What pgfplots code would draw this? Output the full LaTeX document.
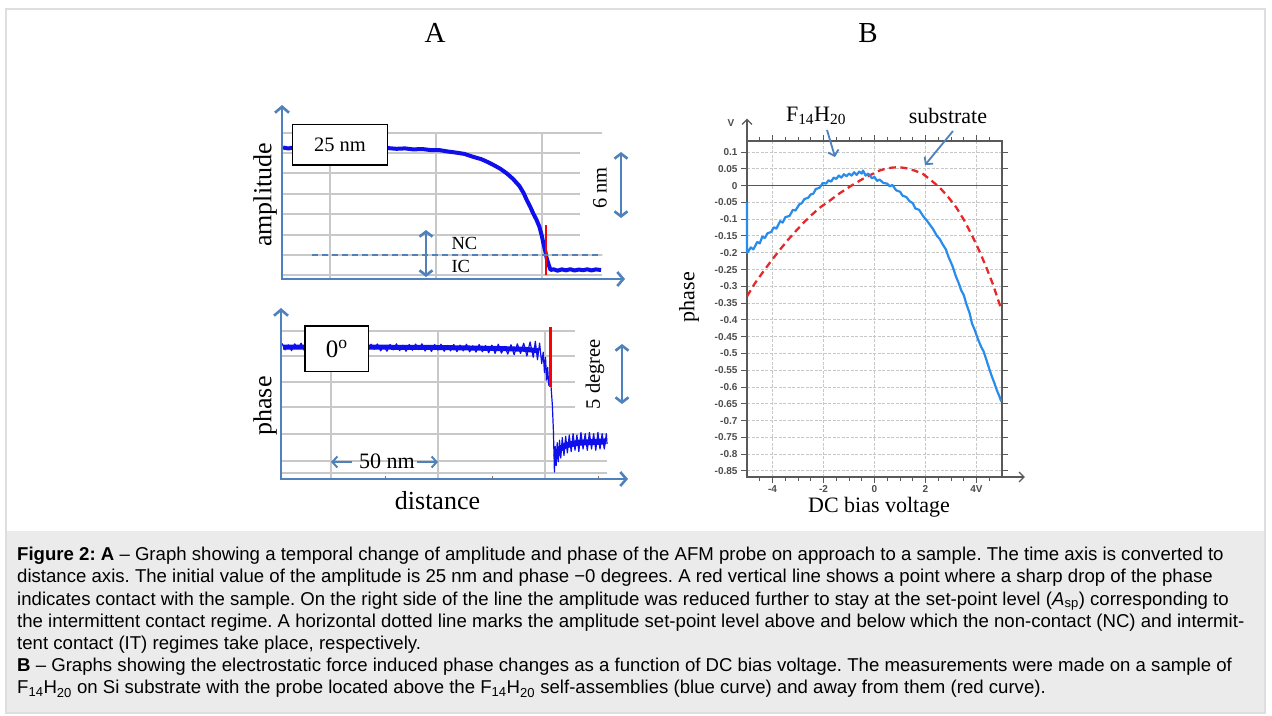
\documentclass[border=0pt]{standalone}
\usepackage{fontspec}
\setmainfont{Liberation Serif}
\setsansfont{Liberation Sans}
\usepackage{pgfplots}
\pgfplotsset{compat=1.18}
\usetikzlibrary{arrows.meta}
\definecolor{sblue}{RGB}{79,129,189}
\definecolor{gridg}{RGB}{200,200,200}
\definecolor{dblue}{RGB}{15,15,235}
\definecolor{lblue}{RGB}{40,140,235}
\definecolor{rred}{RGB}{232,40,40}
\definecolor{capbg}{RGB}{235,235,235}
\newcommand{\fs}[1]{\fontsize{#1}{#1}\selectfont}
\begin{document}
\frenchspacing
\begin{tikzpicture}
\begin{scope}[x=1pt,y=-1pt,gl/.style={draw=gridg,line width=1.5pt}]
\path[use as bounding box] (0,0) rectangle (1272,715);
\fill[white] (0,0) rectangle (1272,715);
\fill[capbg] (7,531) rectangle (1265,713);
\draw[black!13,line width=1.5pt] (6,9) rectangle (1265,713);
% amplitude grid
\foreach \x in {330,436,542} \draw[gl] (\x,133) -- (\x,279);
\draw[gl] (282,133) -- (602,133);
\foreach \y in {153,173,194,214,235} \draw[gl] (282,\y) -- (580,\y);
\draw[gl] (282,255) -- (602,255);
\draw[gl] (282,275) -- (602,275);
% phase grid
\foreach \x in {331,438,545} \draw[gl] (\x,331) -- (\x,479);
\foreach \y in {331,356,382,407} \draw[gl] (282,\y) -- (575,\y);
\foreach \y in {434,461,473} \draw[gl] (282,\y) -- (607,\y);
\end{scope}

% ---------- amplitude data
\begin{axis}[at={(282pt,-279pt)},anchor=south west,scale only axis,width=343pt,height=174pt,
  xmin=0,xmax=161.79,ymin=12.094,ymax=29.236,hide axis,clip=false]
\addplot[dblue,line width=4pt,line join=round] coordinates {
(0.5,25.05)(3,24.95)(6,25.08)(9,24.96)(12,25.06)(15,24.97)(18,25.05)(22,24.98)
(26,25.04)(30,24.95)(34,25.03)(38,24.96)(42,25.02)(46,24.94)(50,24.99)(54,24.92)
(58,24.96)(62,24.86)(66,24.9)(70,24.8)(74,24.8)(78,24.66)(82,24.55)(86,24.42)
(90,24.14)(94,23.9)(97,23.62)(100,23.3)(103,22.95)(106,22.5)(109,21.95)(112,21.25)
(114,20.55)(115.5,19.85)(117,19.25)(118.5,18.55)(120,17.95)(121.4,17.25)(122.5,16.4)
(123.3,15.6)(124.2,14.8)(124.9,14.1)(125.8,13.5)(126.7,12.98)(128,13.05)(130,12.92)
(132,13.04)(134,12.95)(136,13.06)(138,12.93)(140,13.03)(142,12.96)(144,13.05)
(146,12.94)(148,13.04)(150.5,12.98)};
\addplot[red,line width=2.6pt] coordinates {(124.5,17.41)(124.5,12.49)};
\end{axis}

% ---------- phase data
\begin{axis}[at={(282pt,-479pt)},anchor=south west,scale only axis,width=346pt,height=171pt,
  xmin=0,xmax=163.2,ymin=-10.35,ymax=3.06,hide axis,clip=false]
\addplot[dblue,line width=5pt] coordinates {
(0.5,0.0)(40,-0.01)(70,-0.03)(90,-0.08)(105,-0.13)(115,-0.18)(121,-0.3)};
\addplot[dblue,line width=6pt] coordinates {
(129.2,-8.6)(131,-8.0)(134,-7.7)(140,-7.5)(147,-7.45)(152.8,-7.4)};
\addplot[dblue,line width=1.2pt,line join=round] coordinates {
(0,0.28)(1.5,-0.22)(3,0.17)(4.5,-0.28)(6,0.25)(7.5,-0.14)(9,0.3)(10.5,-0.26)(12,0.11)
(13.5,-0.31)(15,0.21)(16.5,-0.2)(18,0.27)(19.5,-0.23)(21,0.16)(22.5,-0.29)(24,0.24)
(25.5,-0.15)(27,0.29)(28.5,-0.26)(30,0.09)(31.5,-0.32)(33,0.2)(34.5,-0.22)(36,0.26)
(37.5,-0.25)(39,0.14)(40.5,-0.3)(42,0.22)(43.5,-0.17)(45,0.24)(46.5,-0.3)(48,0.09)
(49.5,-0.33)(51,0.2)(52.5,-0.22)(54,0.25)(55.5,-0.28)(57,0.14)(58.5,-0.33)(60,0.2)
(61.5,-0.26)(63,0.23)(64.5,-0.2)(66,0.25)(67.5,-0.31)(69,0.12)(70.5,-0.35)(72,0.2)
(73.5,-0.24)(75,0.22)(76.5,-0.33)(78,0.12)(79.5,-0.3)(81,0.2)(82.5,-0.36)(84,0.15)
(85.5,-0.3)(87,0.22)(88.5,-0.38)(90,0.1)(91.5,-0.4)(93,0.2)(94.5,-0.37)(96,0.12)
(97.5,-0.45)(99,0.15)(100.5,-0.5)(102,0.22)(103.5,-0.48)(105,0.05)(106.5,-0.55)
(108,0.18)(109.5,-0.6)(111,0.25)(112.5,-0.5)(114,0.3)(115.5,-0.7)(117,0.4)(118.5,-0.8)
(119.5,0.45)(120.5,-1.0)(121.5,0.3)(122.5,-1.3)(123.2,-0.4)(123.8,-2.0)(124.3,-0.8)
(124.8,-2.6)(125.3,-1.6)(125.8,-3.0)(126.3,-2.6)(126.9,-3.1)(127.5,-4.5)(128.0,-6.5)
(128.5,-9.8)(128.9,-7.8)(129.3,-9.3)(129.8,-7.5)(130.3,-9.0)(130.9,-7.3)(131.5,-8.7)
(132.2,-7.1)(133,-8.5)(133.8,-7.0)(134.6,-8.3)(135.5,-6.9)(136.4,-8.2)(137.3,-6.8)
(138.2,-8.1)(139.1,-6.9)(140,-8.2)(141,-6.7)(142,-8.0)(143,-6.8)(144,-8.1)(145,-6.7)
(146,-8.0)(147,-6.8)(148,-8.1)(149,-6.7)(150,-8.0)(151,-6.8)(152,-8.0)(153,-6.8)(153.3,-7.6)};
\addplot[red,line width=2.8pt] coordinates {(126.7,1.59)(126.7,-3.11)};
\end{axis}

% ---------- panel B
\begin{axis}[at={(747pt,-477pt)},anchor=south west,scale only axis,width=255pt,height=336pt,
  xmin=-5,xmax=5,ymin=-0.868,ymax=0.133,clip=false,
  axis line style={draw=black!65,line width=1.3pt},
  xtick={-4,-2,0,2,4},xticklabels={-4,-2,0,2,4V},
  minor xtick={-4.5,-3.5,-3,-2.5,-1.5,-1,-0.5,0.5,1,1.5,2.5,3,3.5,4.5},
  ytick={-0.85,-0.8,-0.75,-0.7,-0.65,-0.6,-0.55,-0.5,-0.45,-0.4,-0.35,-0.3,-0.25,-0.2,-0.15,-0.1,-0.05,0,0.05,0.1},
  yticklabels={-0.85,-0.8,-0.75,-0.7,-0.65,-0.6,-0.55,-0.5,-0.45,-0.4,-0.35,-0.3,-0.25,-0.2,-0.15,-0.1,-0.05,0,0.05,0.1},
  tick align=outside,tick pos=both,xticklabel pos=lower,yticklabel pos=left,
  major tick length=6pt,minor tick length=4pt,
  tick style={draw=black!65,line width=1pt},
  ticklabel style={font=\sffamily\bfseries\fs{10},text=black!70},
  xticklabel style={yshift=1pt},
  grid=major,major grid style={draw=black!22,dash pattern=on 3pt off 1.5pt,line width=1pt}]
\draw[black!65,line width=1.3pt] (axis cs:-5,0) -- (axis cs:5,0);
\addplot[rred,line width=2.3pt,dash pattern=on 7pt off 4.5pt] coordinates {
(-5.0,-0.33)(-4.7,-0.292)(-4.38,-0.258)(-4.05,-0.224)(-3.73,-0.193)(-3.4,-0.162)
(-3.07,-0.134)(-2.75,-0.108)(-2.42,-0.084)(-2.1,-0.063)(-1.76,-0.045)(-1.45,-0.027)
(-1.11,-0.010)(-0.78,0.006)(-0.46,0.020)(-0.13,0.033)(0.2,0.045)(0.46,0.051)(0.72,0.054)
(0.98,0.055)(1.24,0.052)(1.57,0.045)(1.90,0.035)(2.2,0.017)(2.55,-0.005)(2.88,-0.033)
(3.2,-0.064)(3.53,-0.105)(3.86,-0.154)(4.12,-0.196)(4.38,-0.243)(4.65,-0.295)(4.9,-0.352)(5.0,-0.37)};
\addplot[lblue,line width=2.2pt,line join=round] coordinates {
(-5,-0.05)(-5,-0.2)(-4.95,-0.196)(-4.85,-0.184)(-4.75,-0.19)(-4.6,-0.168)(-4.5,-0.172)
(-4.4,-0.152)(-4.3,-0.156)(-4.2,-0.142)(-4.05,-0.138)(-3.95,-0.124)(-3.85,-0.128)
(-3.7,-0.106)(-3.6,-0.11)(-3.5,-0.094)(-3.33,-0.09)(-3.2,-0.072)(-3.1,-0.074)
(-2.95,-0.056)(-2.85,-0.052)(-2.75,-0.04)(-2.6,-0.036)(-2.5,-0.026)(-2.4,-0.024)
(-2.3,-0.01)(-2.15,-0.006)(-2.03,0.008)(-1.9,0.006)(-1.8,0.016)(-1.7,0.012)(-1.6,0.024)
(-1.5,0.02)(-1.4,0.03)(-1.3,0.024)(-1.2,0.034)(-1.1,0.028)(-1.0,0.036)(-0.9,0.03)
(-0.8,0.04)(-0.7,0.032)(-0.6,0.042)(-0.5,0.036)(-0.45,0.045)(-0.35,0.03)(-0.25,0.036)
(-0.1,0.022)(0.0,0.026)(0.1,0.014)(0.2,0.018)(0.35,0.008)(0.5,0.006)(0.6,-0.002)
(0.7,0.002)(0.85,-0.014)(1.0,-0.018)(1.1,-0.03)(1.25,-0.034)(1.37,-0.046)(1.5,-0.052)
(1.6,-0.068)(1.75,-0.072)(1.9,-0.09)(2.03,-0.102)(2.15,-0.114)(2.3,-0.13)(2.45,-0.15)
(2.55,-0.158)(2.68,-0.176)(2.8,-0.19)(2.9,-0.212)(3.05,-0.238)(3.2,-0.272)(3.3,-0.29)
(3.4,-0.312)(3.5,-0.326)(3.6,-0.352)(3.73,-0.38)(3.82,-0.41)(3.92,-0.428)(4.05,-0.456)
(4.18,-0.48)(4.28,-0.494)(4.4,-0.522)(4.51,-0.548)(4.6,-0.568)(4.7,-0.588)(4.8,-0.61)
(4.9,-0.628)(4.97,-0.643)};
\draw[black!65,line width=1.3pt,-{Straight Barb[length=5pt,width=10pt]}] (axis cs:-5,0.133) -- (axis cs:-5,0.2);
\draw[black!65,line width=1.3pt,-{Straight Barb[length=5pt,width=10pt]}] (axis cs:5,-0.868) -- (axis cs:5.9,-0.868);
\end{axis}

\begin{scope}[x=1pt,y=-1pt,
  ax/.style={draw=sblue,line width=2.6pt,-{Straight Barb[length=6pt,width=14pt]}},
  dbl/.style={draw=sblue,line width=2.6pt,{Straight Barb[length=5pt,width=13pt]}-{Straight Barb[length=5pt,width=13pt]}},
  sgl/.style={draw=sblue,line width=2pt,-{Straight Barb[length=5pt,width=11pt]}}]
\draw[sblue,line width=1.7pt,dash pattern=on 6pt off 4pt] (312,255) -- (602,255);
\node[font=\fs{29}] at (435,33) {A};
\node[font=\fs{29}] at (868,33) {B};
\draw[ax] (282,280) -- (282,105);
\draw[ax] (281,279) -- (625,279);
\draw[ax] (281,480) -- (281,308);
\draw[ax] (280,479) -- (628,479);
\foreach \x in {385,492,598} \draw[black!55,line width=1pt] (\x,476) -- (\x,479);

\draw[black,line width=1.5pt,fill=white] (292.7,124.3) rectangle (387.3,165);
\node[font=\fs{20.5}] at (340,145) {25 nm};
\draw[black,line width=1.5pt,fill=white] (305,326) rectangle (368.3,371.7);
\node[font=\fs{25}] at (336.7,349) {0\textsuperscript{o}};

\draw[dbl] (426,230) -- (426,277);
\node[font=\fs{18.5},anchor=west] at (448,243.5) {NC};
\node[font=\fs{18.5},anchor=west] at (448,266.5) {IC};

\node[font=\fs{20.5},rotate=90] at (600,188) {6 nm};
\draw[dbl] (621,152) -- (621,218);
\node[font=\fs{20.5},rotate=90] at (595,374) {5 degree};
\draw[dbl] (622,344) -- (622,404);

\node[font=\fs{22}] at (387,461) {50 nm};
\draw[sgl] (352,462) -- (331,462);
\draw[sgl] (417,462) -- (438,462);

\node[font=\fs{26},rotate=90] at (265,195) {amplitude};
\node[font=\fs{26},rotate=90] at (265,406) {phase};
\node[font=\fs{26}] at (437.5,501) {distance};

\node[font=\sffamily\bfseries\fs{10},text=black!70] at (731,123) {V};
\node[font=\fs{22}] at (816,116) {F\textsubscript{14}H\textsubscript{20}};
\node[font=\fs{22}] at (948,116) {substrate};
\draw[sgl,line width=1.8pt] (827,130) -- (835,157);
\draw[sgl,line width=1.8pt] (953,131) -- (925,165);
\node[font=\fs{22},rotate=90] at (689,297) {phase};
\node[font=\fs{22}] at (879,507) {DC bias voltage};

\node[anchor=north west,align=left,inner sep=0pt,font={\sffamily\fontsize{18.6}{22.2}\selectfont}] at (17,547) {%
\textbf{Figure 2: A} \textendash{} Graph showing a temporal change of amplitude and phase of the AFM probe on approach to a sample. The time axis is converted to\\
distance axis. The initial value of the amplitude is 25 nm and phase −0 degrees. A red vertical line shows a point where a sharp drop of the phase\\
indicates contact with the sample. On the right side of the line the amplitude was reduced further to stay at the set-point level (\textit{A}\textsubscript{sp}) corresponding to\\
the intermittent contact regime. A horizontal dotted line marks the amplitude set-point level above and below which the non-contact (NC) and intermit-\\
tent contact (IT) regimes take place, respectively.\\
\textbf{B} \textendash{} Graphs showing the electrostatic force induced phase changes as a function of DC bias voltage. The measurements were made on a sample of\\
F\textsubscript{14}H\textsubscript{20} on Si substrate with the probe located above the F\textsubscript{14}H\textsubscript{20} self-assemblies (blue curve) and away from them (red curve).};
\end{scope}
\end{tikzpicture}
\end{document}
